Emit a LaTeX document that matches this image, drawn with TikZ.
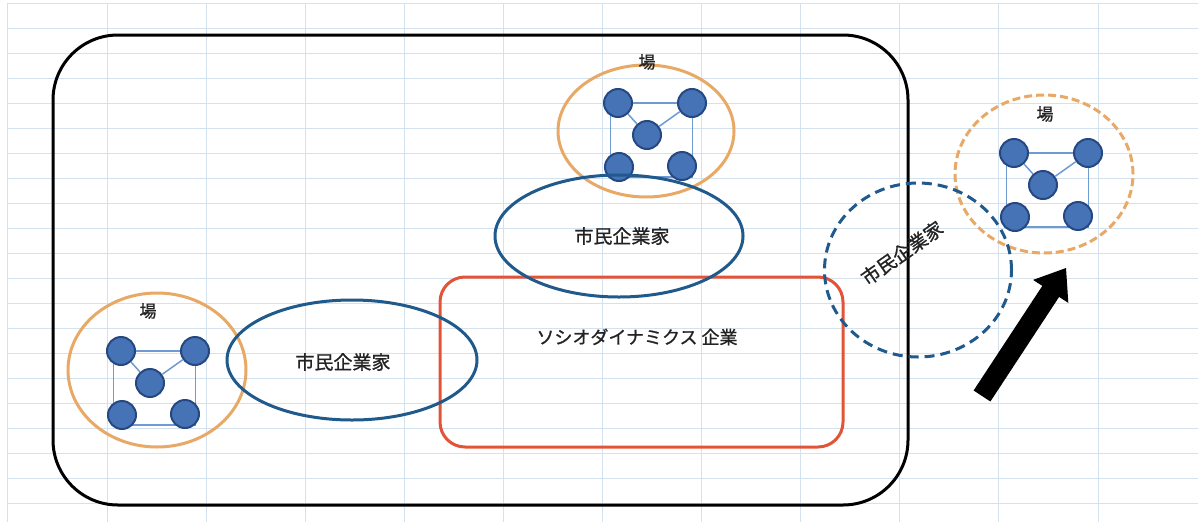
\documentclass[tikz,border=0pt]{standalone}
\usepackage{fontspec}
\newfontfamily\jp[FakeBold=1]{Noto Sans CJK JP}
\usetikzlibrary{shapes.geometric}
\definecolor{gridc}{RGB}{212,225,238}
\definecolor{dotfill}{RGB}{70,114,182}
\definecolor{dotline}{RGB}{38,72,130}
\definecolor{linkc}{RGB}{110,155,210}
\definecolor{orangec}{RGB}{232,168,102}
\definecolor{bluec}{RGB}{32,90,140}
\definecolor{redc}{RGB}{226,84,56}
\definecolor{textc}{RGB}{35,35,35}
\tikzset{
  jptext/.style={font=\jp\fontsize{19}{22}\selectfont, text=textc, inner sep=0pt},
  katatext/.style={font=\jp\fontsize{18}{22}\selectfont, text=textc, inner sep=0pt},
  batext/.style={font=\jp\fontsize{17}{20}\selectfont, text=textc, inner sep=0pt},
  dotnode/.style={circle, draw=dotline, fill=dotfill, line width=2pt, minimum size=28pt, inner sep=0pt},
  linkline/.style={draw=linkc, line width=1.5pt},
  bacircle/.style={ellipse, draw=orangec, line width=3pt, inner sep=0pt},
  peopleell/.style={ellipse, draw=bluec, line width=3pt, inner sep=0pt},
  cluster/.pic={
    \node[linkline, rectangle, minimum width=82pt, minimum height=74pt, inner sep=0pt] (-box) at (4.5,5) {};
    \node[dotnode] (-tl) at (-29,-32) {};
    \node[dotnode] (-tr) at (45,-32) {};
    \node[dotnode] (-c) at (0,0) {};
    \node[dotnode] (-bl) at (-28,32) {};
    \node[dotnode] (-br) at (35,31) {};
    \draw[linkline] (-c) -- (-tl);
    \draw[linkline] (-c) -- (-tr);
  }
}
\begin{document}
\begin{tikzpicture}[x=1pt,y=-1pt]
\useasboundingbox (0,0) rectangle (1198,522);
\fill[white] (0,0) rectangle (1198,522);
% spreadsheet grid
\foreach \k in {0,...,20} { \draw[gridc, line width=1pt] (8,{3+25*\k}) -- (1198,{3+25*\k}); }
\foreach \k in {-1,...,10} { \draw[gridc, line width=1pt] ({107+99.1*\k},3) -- ({107+99.1*\k},522); }
% frame
\node[draw=black, line width=3pt, rounded corners=65pt, minimum width=855pt, minimum height=470pt, inner sep=0pt] (frame) at (480.5,270) {};
% red company box
\node[draw=redc, line width=3pt, rounded corners=25pt, minimum width=403pt, minimum height=170pt, inner sep=0pt] (company) at (641.5,362) {};
\node[katatext] (companytext) at (637,337) {ソシオダイナミクス 企業};
% ba circles
\node[bacircle, minimum width=178pt, minimum height=154pt] (baL) at (157,370) {};
\node[bacircle, minimum width=176pt, minimum height=132pt] (baT) at (646,131) {};
\node[bacircle, dashed, dash pattern=on 8pt off 4pt, minimum width=178pt, minimum height=158pt] (baR) at (1044,174) {};
\node[batext] (baLtext) at (148,311) {場};
\node[batext] (baTtext) at (647,62) {場};
\node[batext] (baRtext) at (1045,114) {場};
% clusters
\pic (cL) at (150,383) {cluster};
\pic (cT) at (647,135) {cluster};
\pic (cR) at (1043,185) {cluster};
% citizen entrepreneurs
\node[peopleell, minimum width=250pt, minimum height=120pt] (ceL) at (352,360) {};
\node[jptext] (ceLtext) at (343,362) {市民企業家};
\node[peopleell, minimum width=248pt, minimum height=122pt] (ceT) at (619,236) {};
\node[jptext] (ceTtext) at (622,236) {市民企業家};
\node[peopleell, dash pattern=on 10pt off 6pt, minimum width=187pt, minimum height=174pt] (ceR) at (918,270) {};
\node[jptext, rotate=35] (ceRtext) at (902,253) {市民企業家};
% block arrow
\fill[black] (990.4,401.5) -- (1059.1,296.9) -- (1068.3,302.9) -- (1066,268) -- (1033.1,279.9) -- (1042.3,285.9) -- (973.6,390.5) -- cycle;
\end{tikzpicture}
\end{document}
